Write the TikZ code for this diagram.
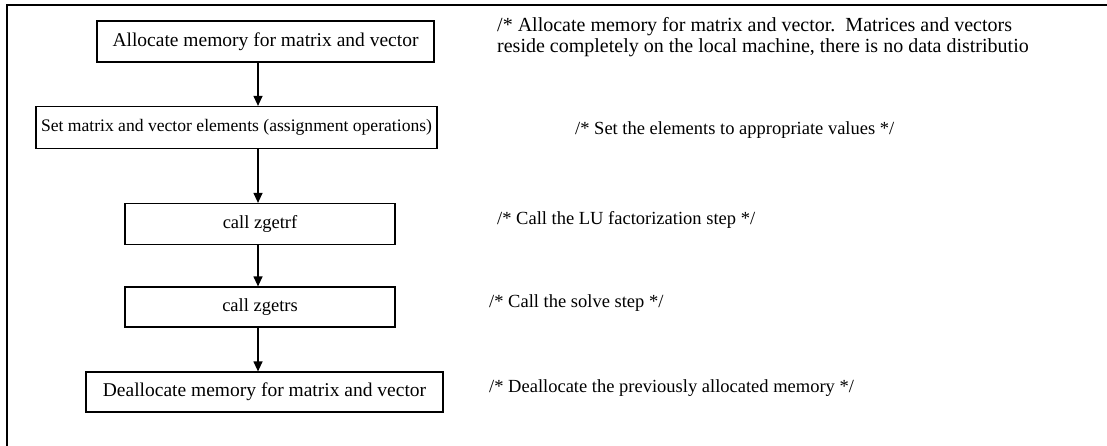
\documentclass[tikz,border=0pt]{standalone}
\usepackage{fontspec}
\setmainfont{Liberation Serif}
\usetikzlibrary{arrows.meta}
\newcommand{\fsz}[1]{\fontsize{#1}{21}\selectfont}
\begin{document}
\begin{tikzpicture}[x=1pt,y=-1pt,
  stepbox/.style={draw,line width=1.2pt,inner sep=0pt},
  comment/.style={anchor=west,inner sep=0pt,align=left},
  flow/.style={line width=1.2pt,-{Triangle[width=9pt,length=10pt]}}]
\useasboundingbox (0,0) rectangle (1107,446);
\fill[white] (0,0) rectangle (1107,446);
% frame
\coordinate (ftl) at (7,5);
\coordinate (ftr) at (1107,5);
\coordinate (fbl) at (7,446);
\draw[line width=1.6pt] (ftr) -- (ftl) -- (fbl);
% boxes
\node[stepbox,minimum width=337pt,minimum height=41pt,font=\fsz{19.5}] (b1) at (265.5,41.5) {Allocate memory for matrix and vector};
\node[stepbox,minimum width=401pt,minimum height=42pt,font=\fsz{17.6}] (b2) at (236.5,127.5) {Set matrix and vector elements (assignment operations)};
\node[stepbox,minimum width=270pt,minimum height=41pt,font=\fsz{18.5}] (b3) at (260,224) {call zgetrf};
\node[stepbox,minimum width=270pt,minimum height=40pt,font=\fsz{18.5}] (b4) at (260,307) {call zgetrs};
\node[stepbox,minimum width=357pt,minimum height=40pt,font=\fsz{19.5}] (b5) at (264.5,392) {Deallocate memory for matrix and vector};
% arrows
\coordinate (ax) at (258,0);
\draw[flow] (b1.south -| ax) -- (b2.north -| ax);
\draw[flow] (b2.south -| ax) -- (b3.north -| ax);
\draw[flow] (b3.south -| ax) -- (b4.north -| ax);
\draw[flow] (b4.south -| ax) -- (b5.north -| ax);
% comments
\node[comment,font=\fsz{20}] (c1) at (497,37.5) {/* Allocate memory for matrix and vector.\ \ Matrices and vectors\\reside completely on the local machine, there is no data distributio};
\node[comment,font=\fsz{18.5}] (c2) at (575,130) {/* Set the elements to appropriate values */};
\node[comment,font=\fsz{18.5}] (c3) at (497,220) {/* Call the LU factorization step */};
\node[comment,font=\fsz{18.5}] (c4) at (489,303) {/* Call the solve step */};
\node[comment,font=\fsz{18.5}] (c5) at (489,388) {/* Deallocate the previously allocated memory */};
\end{tikzpicture}
\end{document}
